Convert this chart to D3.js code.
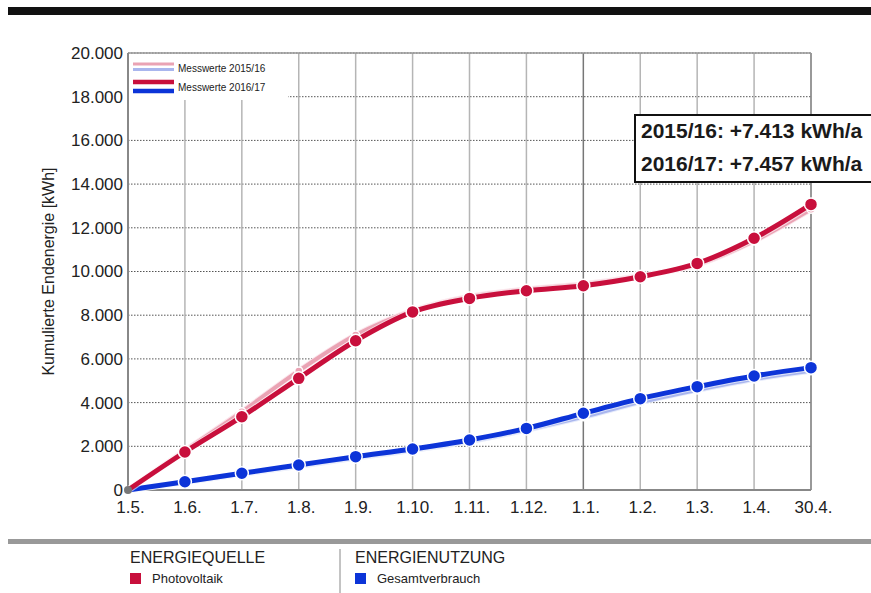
<!DOCTYPE html>
<html>
<head>
<meta charset="utf-8">
<script src="https://cdn.jsdelivr.net/npm/d3@7"></script>
<style>
  html, body { margin: 0; padding: 0; background: #fff; }
  svg { display: block; font-family: "Liberation Sans", Arial, sans-serif; }
</style>
</head>
<body>
<svg id="chart" width="871" height="593"></svg>
<script>
// Months of the measuring year (May to April)
const months = ["1.5.", "1.6.", "1.7.", "1.8.", "1.9.", "1.10.", "1.11.", "1.12.", "1.1.", "1.2.", "1.3.", "1.4.", "30.4."];

// Cumulative final energy [kWh]
const pv1516  = [0, 1800, 3580, 5450, 7090, 8200, 8850, 9180, 9420, 9800, 10320, 11400, 12850];
const pv1617  = [0, 1740, 3355, 5110, 6830, 8150, 8770, 9120, 9350, 9760, 10370, 11520, 13070];
const use1516 = [0, 360, 740, 1100, 1480, 1830, 2230, 2760, 3350, 4020, 4580, 5080, 5460];
const use1617 = [0, 380, 765, 1145, 1525, 1875, 2290, 2820, 3510, 4180, 4730, 5220, 5600];

const yTicks = [0, 2000, 4000, 6000, 8000, 10000, 12000, 14000, 16000, 18000, 20000];
const summaryLines = ["2015/16: +7.413 kWh/a", "2016/17: +7.457 kWh/a"];

const RED = "#c80f3c", RED_PALE = "#eaa3b4";
const BLUE = "#0c34d8", BLUE_PALE = "#a9b6ee";

const svg = d3.select("#chart");
const plotLeft = 128, plotRight = 811, plotTop = 53, plotBottom = 490;

const x = d3.scalePoint().domain(months).range([plotLeft, plotRight]);
const y = d3.scaleLinear().domain([0, 20000]).range([plotBottom, plotTop]);
const fmt = v => d3.format(",")(v).replace(/,/g, ".");

// Header and footer bars
svg.append("rect").attr("x", 8).attr("y", 7).attr("width", 863).attr("height", 8).attr("fill", "#111");
svg.append("rect").attr("x", 8).attr("y", 539).attr("width", 863).attr("height", 5).attr("fill", "#999");

// Horizontal dotted gridlines
svg.append("g").selectAll("line").data(yTicks.slice(1)).join("line")
  .attr("x1", plotLeft).attr("x2", plotRight)
  .attr("y1", d => y(d)).attr("y2", d => y(d))
  .attr("stroke", "#555").attr("stroke-width", 1).attr("stroke-dasharray", "1.5,1.5");

// Vertical gridlines, darker at the turn of the year
svg.append("g").selectAll("line").data(months.slice(1)).join("line")
  .attr("x1", d => x(d)).attr("x2", d => x(d))
  .attr("y1", plotTop).attr("y2", plotBottom)
  .attr("stroke", d => d === "1.1." || d === "30.4." ? "#777" : "#b5b5b5")
  .attr("stroke-width", 1.5);

// Plot frame
svg.append("line").attr("x1", plotLeft).attr("x2", plotRight).attr("y1", plotTop).attr("y2", plotTop)
  .attr("stroke", "#999").attr("stroke-width", 1.5);
svg.append("line").attr("x1", plotLeft).attr("x2", plotLeft).attr("y1", plotTop).attr("y2", plotBottom)
  .attr("stroke", "#888").attr("stroke-width", 2);
svg.append("line").attr("x1", plotLeft).attr("x2", plotRight).attr("y1", plotBottom).attr("y2", plotBottom)
  .attr("stroke", "#888").attr("stroke-width", 2);

// Y axis
const yAxis = d3.axisLeft(y).tickValues(yTicks).tickFormat(fmt).tickSize(0).tickPadding(5);
const gy = svg.append("g").attr("transform", `translate(${plotLeft},0)`).call(yAxis);
gy.select(".domain").remove();
gy.selectAll("text").attr("font-size", 17).attr("fill", "#222")
  .attr("font-family", "'Liberation Sans', Arial, sans-serif");

// X axis
const xAxis = d3.axisBottom(x).tickSize(0).tickPadding(11);
const gx = svg.append("g").attr("transform", `translate(0,${plotBottom})`).call(xAxis);
gx.select(".domain").remove();
gx.selectAll("text").attr("font-size", 17).attr("fill", "#222").attr("dx", 2)
  .attr("font-family", "'Liberation Sans', Arial, sans-serif");

// Y axis title
svg.append("text")
  .attr("transform", `translate(54,${(plotTop + plotBottom) / 2}) rotate(-90)`)
  .attr("text-anchor", "middle").attr("font-size", 16).attr("fill", "#222")
  .text("Kumulierte Endenergie [kWh]");

// Series
const line = d3.line().x((d, i) => x(months[i])).y(d => y(d)).curve(d3.curveMonotoneX);

function drawSeries(values, color, width, halo, r) {
  const g = svg.append("g");
  g.append("path").attr("d", line(values)).attr("fill", "none")
    .attr("stroke", halo).attr("stroke-width", width + 2).attr("stroke-linejoin", "round");
  g.append("path").attr("d", line(values)).attr("fill", "none")
    .attr("stroke", color).attr("stroke-width", width).attr("stroke-linejoin", "round");
  g.selectAll("circle").data(values.slice(1)).join("circle")
    .attr("cx", (d, i) => x(months[i + 1])).attr("cy", d => y(d))
    .attr("r", r).attr("fill", color).attr("stroke", "#fff").attr("stroke-width", 1.5);
}

drawSeries(pv1516, RED_PALE, 4, "#fbe6ec", 4);
drawSeries(use1516, BLUE_PALE, 4, "#e6ebfb", 4);
drawSeries(use1617, BLUE, 5, "rgba(255,255,255,0.6)", 6.5);
drawSeries(pv1617, RED, 5, "rgba(255,255,255,0.6)", 6.5);

// Shared start point
svg.append("circle").attr("cx", x(months[0])).attr("cy", y(0)).attr("r", 4).attr("fill", "#777");

// Series legend (top left of the plot)
const lg = svg.append("g");
lg.append("rect").attr("x", plotLeft + 1).attr("y", plotTop + 1).attr("width", 159).attr("height", 46).attr("fill", "#fff");
lg.append("line").attr("x1", 133).attr("x2", 174).attr("y1", 64).attr("y2", 64).attr("stroke", RED_PALE).attr("stroke-width", 3);
lg.append("line").attr("x1", 133).attr("x2", 174).attr("y1", 69.5).attr("y2", 69.5).attr("stroke", BLUE_PALE).attr("stroke-width", 3);
lg.append("line").attr("x1", 133).attr("x2", 174).attr("y1", 82).attr("y2", 82).attr("stroke", RED).attr("stroke-width", 4.5);
lg.append("line").attr("x1", 133).attr("x2", 174).attr("y1", 91).attr("y2", 91).attr("stroke", BLUE).attr("stroke-width", 4.5);
lg.append("text").attr("x", 178).attr("y", 71.5).attr("font-size", 10).attr("fill", "#222").text("Messwerte 2015/16");
lg.append("text").attr("x", 178).attr("y", 90.5).attr("font-size", 10).attr("fill", "#222").text("Messwerte 2016/17");

// Annual summary box
const sb = svg.append("g");
sb.append("rect").attr("x", 635).attr("y", 115).attr("width", 240).attr("height", 67)
  .attr("fill", "#fff").attr("stroke", "#111").attr("stroke-width", 2);
sb.selectAll("text").data(summaryLines).join("text")
  .attr("x", 641).attr("y", (d, i) => 138 + i * 33)
  .attr("font-size", 21).attr("font-weight", "bold").attr("fill", "#1a1a1a")
  .text(d => d);

// Category legend (footer)
const fl = svg.append("g").attr("fill", "#222");
fl.append("text").attr("x", 130).attr("y", 563).attr("font-size", 16).text("ENERGIEQUELLE");
fl.append("rect").attr("x", 130).attr("y", 573).attr("width", 11).attr("height", 11).attr("fill", RED);
fl.append("text").attr("x", 152).attr("y", 583).attr("font-size", 13).text("Photovoltaik");
svg.append("line").attr("x1", 340).attr("x2", 340).attr("y1", 549).attr("y2", 593).attr("stroke", "#888").attr("stroke-width", 1);
fl.append("text").attr("x", 355).attr("y", 563).attr("font-size", 16).text("ENERGIENUTZUNG");
fl.append("rect").attr("x", 355).attr("y", 573).attr("width", 11).attr("height", 11).attr("fill", BLUE);
fl.append("text").attr("x", 377).attr("y", 583).attr("font-size", 13).text("Gesamtverbrauch");
</script>
</body>
</html>
